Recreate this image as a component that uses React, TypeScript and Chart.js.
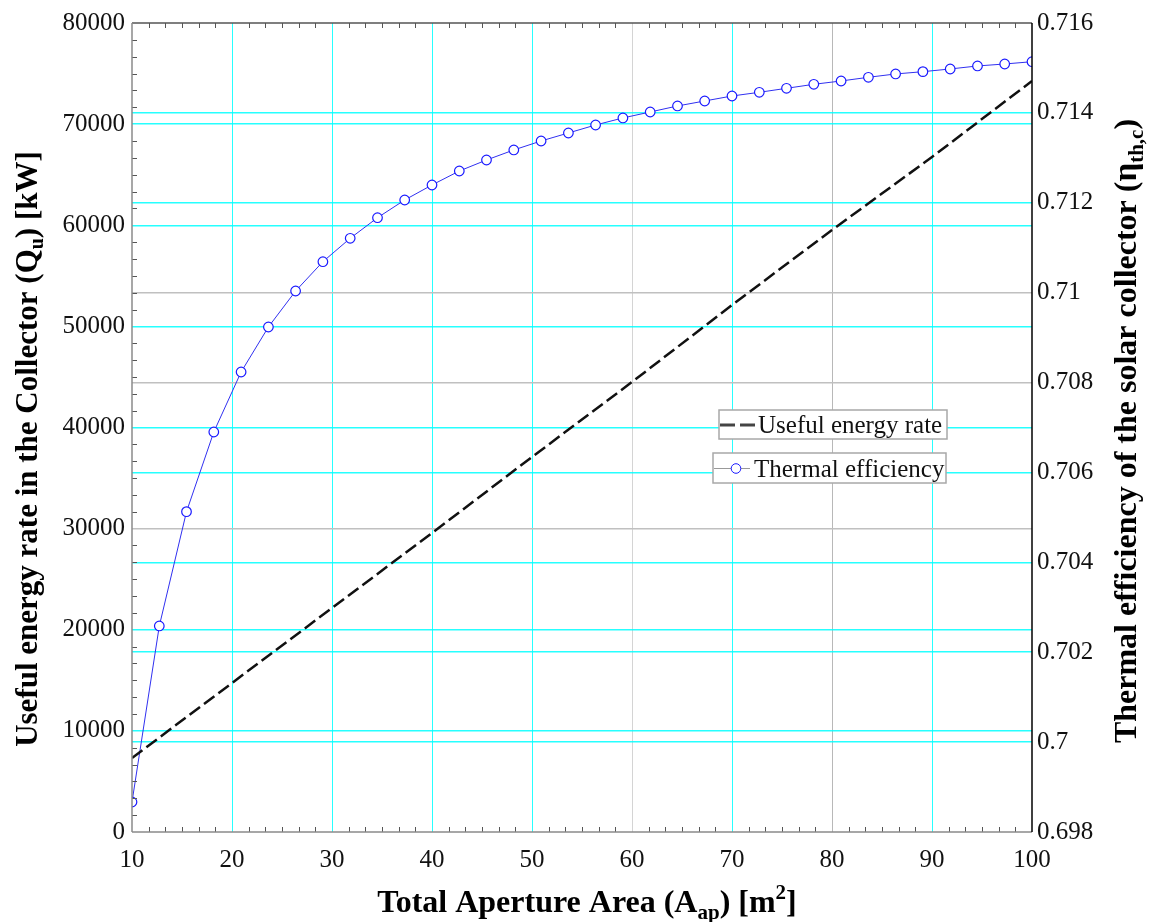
import React, { useEffect, useRef } from 'react';
import { Chart, registerables } from 'chart.js';

Chart.register(...registerables);

// ---------- data ----------
const areaEff = [10, 12.73, 15.45, 18.18, 20.91, 23.64, 26.36, 29.09, 31.82, 34.55, 37.27, 40, 42.73, 45.45, 48.18, 50.91, 53.64, 56.36, 59.09, 61.82, 64.55, 67.27, 70, 72.73, 75.45, 78.18, 80.91, 83.64, 86.36, 89.09, 91.82, 94.55, 97.27, 100];
const efficiency = [0.698668, 0.702584, 0.705127, 0.7069, 0.708235, 0.709236, 0.710037, 0.710689, 0.71121, 0.711668, 0.712062, 0.712396, 0.712707, 0.712952, 0.713175, 0.713375, 0.713553, 0.713731, 0.713887, 0.71402, 0.714154, 0.714265, 0.714376, 0.714458, 0.714547, 0.714636, 0.71471, 0.714792, 0.714866, 0.714917, 0.714977, 0.715044, 0.715088, 0.715139];
const areaEnergy = [10, 20, 30, 40, 50, 60, 70, 80, 90, 100];
const usefulEnergy = [7318, 14734, 22151, 29567, 37083, 44499, 52114, 59530, 66749, 74264];

const xTickValues = [10, 20, 30, 40, 50, 60, 70, 80, 90, 100];
const leftTickValues = [0, 10000, 20000, 30000, 40000, 50000, 60000, 70000, 80000];
const rightTickValues = [0.698, 0.7, 0.702, 0.704, 0.706, 0.708, 0.71, 0.712, 0.714, 0.716];
const rightTickLabels = ['0.698', '0.7', '0.702', '0.704', '0.706', '0.708', '0.71', '0.712', '0.714', '0.716'];

const seriesNames = ['Useful energy rate', 'Thermal efficiency'];
const xTitle = [
  { t: 'Total Aperture Area (A', s: 32 },
  { t: 'ap', s: 21, dy: 7 },
  { t: ') [m', s: 32 },
  { t: '2', s: 21, dy: -13 },
  { t: ']', s: 32 },
];
const leftTitle = [
  { t: 'Useful energy rate in the Collector (Q', s: 31 },
  { t: 'u', s: 20, dy: 6 },
  { t: ') [kW]', s: 31 },
];
const rightTitle = [
  { t: 'Thermal efficiency of the solar collector (', s: 32 },
  { t: 'η', s: 33 },
  { t: 'th,c', s: 21, dy: 7 },
  { t: ')', s: 32 },
];

const FONT = '"Liberation Serif", "Times New Roman", serif';
const CYAN = 'rgba(0,255,255,0.85)';
const CLEAR = 'rgba(0,0,0,0)';

function drawRich(ctx: CanvasRenderingContext2D, parts: any[], x: number, y: number, angle: number) {
  ctx.save();
  ctx.translate(x, y);
  ctx.rotate(angle);
  ctx.textAlign = 'left';
  ctx.textBaseline = 'alphabetic';
  ctx.fillStyle = '#000';
  let total = 0;
  const widths: number[] = [];
  for (const p of parts) {
    ctx.font = `bold ${p.s}px ${FONT}`;
    const w = ctx.measureText(p.t).width;
    widths.push(w);
    total += w;
  }
  let cx = -total / 2;
  parts.forEach((p, i) => {
    ctx.font = `bold ${p.s}px ${FONT}`;
    ctx.fillText(p.t, cx, p.dy || 0);
    cx += widths[i];
  });
  ctx.restore();
}

const decorPlugin = {
  id: 'decor',
  afterDraw(chart: any) {
    const { ctx, chartArea: a, scales } = chart;
    const xs = scales.x;
    const ys = scales.y;
    ctx.save();
    ctx.strokeStyle = '#555';
    ctx.lineWidth = 1;
    const seg = (x1: number, y1: number, x2: number, y2: number) => {
      ctx.beginPath();
      ctx.moveTo(x1, y1);
      ctx.lineTo(x2, y2);
      ctx.stroke();
    };
    for (let i = 0; i < xTickValues.length - 1; i++) {
      const v0 = xTickValues[i];
      const v1 = xTickValues[i + 1];
      for (let j = 1; j < 6; j++) {
        const px = Math.round(xs.getPixelForValue(v0 + ((v1 - v0) * j) / 6)) + 0.5;
        seg(px, a.bottom, px, a.bottom - 5);
        seg(px, a.top, px, a.top + 5);
      }
    }
    for (let i = 0; i < leftTickValues.length - 1; i++) {
      const v0 = leftTickValues[i];
      const v1 = leftTickValues[i + 1];
      for (let j = 1; j < 6; j++) {
        const py = Math.round(ys.getPixelForValue(v0 + ((v1 - v0) * j) / 6)) + 0.5;
        seg(a.left, py, a.left + 5, py);
      }
    }
    // frame
    ctx.lineWidth = 1.5;
    ctx.strokeStyle = '#555';
    seg(a.left, a.top, a.right, a.top);
    ctx.strokeStyle = '#8a8a8a';
    seg(a.left, a.top, a.left, a.bottom);
    seg(a.left, a.bottom, a.right, a.bottom);
    ctx.strokeStyle = '#000';
    seg(a.right, a.top, a.right, a.bottom);

    // legend
    ctx.fillStyle = '#fff';
    ctx.strokeStyle = '#a8a8a8';
    ctx.lineWidth = 1.5;
    ctx.fillRect(719, 410, 228, 29);
    ctx.strokeRect(719, 410, 228, 29);
    ctx.fillRect(713, 453, 233, 30);
    ctx.strokeRect(713, 453, 233, 30);
    ctx.strokeStyle = '#444';
    ctx.lineWidth = 3;
    ctx.setLineDash([15, 5]);
    seg(720, 425, 757, 425);
    ctx.setLineDash([]);
    ctx.strokeStyle = '#999';
    ctx.lineWidth = 1;
    seg(714, 468.5, 750, 468.5);
    ctx.beginPath();
    ctx.arc(736, 468.5, 4.8, 0, Math.PI * 2);
    ctx.fillStyle = '#fff';
    ctx.fill();
    ctx.strokeStyle = '#1a1aff';
    ctx.stroke();
    ctx.fillStyle = '#111';
    ctx.font = `25px ${FONT}`;
    ctx.textAlign = 'left';
    ctx.textBaseline = 'alphabetic';
    ctx.fillText(seriesNames[0], 758, 433);
    ctx.fillText(seriesNames[1], 754, 477);

    // axis titles
    drawRich(ctx, xTitle, 587, 912, 0);
    drawRich(ctx, leftTitle, 37, 449, -Math.PI / 2);
    drawRich(ctx, rightTitle, 1136, 431, -Math.PI / 2);
    ctx.restore();
  },
};

export default function App() {
  const ref = useRef<HTMLCanvasElement | null>(null);
  useEffect(() => {
    if (!ref.current) return;
    const tickFont = { family: FONT, size: 25 };
    const chart = new Chart(ref.current, {
      type: 'line',
      data: {
        datasets: [
          {
            label: seriesNames[0],
            data: areaEnergy.map((x, i) => ({ x, y: usefulEnergy[i] })),
            yAxisID: 'y',
            borderColor: '#111',
            borderWidth: 2.5,
            borderDash: [13, 5],
            pointRadius: 0,
            fill: false,
            tension: 0,
          },
          {
            label: seriesNames[1],
            data: areaEff.map((x, i) => ({ x, y: efficiency[i] })),
            yAxisID: 'y1',
            borderColor: '#3030f0',
            borderWidth: 1,
            pointRadius: 4.8,
            pointBackgroundColor: '#fff',
            pointBorderColor: '#1a1aff',
            pointBorderWidth: 1.2,
            fill: false,
            tension: 0,
          },
        ],
      },
      options: {
        responsive: false,
        animation: false,
        layout: { padding: { top: 23, left: 0, right: 0, bottom: 0 } },
        plugins: { legend: { display: false }, tooltip: { enabled: false }, title: { display: false } },
        scales: {
          x: {
            type: 'linear',
            min: 10,
            max: 100,
            afterBuildTicks: (s: any) => {
              s.ticks = xTickValues.map((v) => ({ value: v }));
            },
            afterFit: (s: any) => {
              s.height = 90;
            },
            border: { display: false },
            grid: {
              drawTicks: false,
              lineWidth: 1,
              color: (c: any) => {
                const v = c.tick ? c.tick.value : null;
                if (v === 10 || v === 100) return CLEAR;
                if (v === 60) return '#d4d4d4';
                if (v === 80) return '#b8b8b8';
                return CYAN;
              },
            },
            ticks: {
              font: tickFont,
              color: '#111',
              padding: 13,
              autoSkip: false,
              maxRotation: 0,
              callback: (v: any) => String(v),
            },
          },
          y: {
            type: 'linear',
            position: 'left',
            min: 0,
            max: 80000,
            afterBuildTicks: (s: any) => {
              s.ticks = leftTickValues.map((v) => ({ value: v }));
            },
            afterFit: (s: any) => {
              s.width = 132;
            },
            border: { display: false },
            grid: {
              drawTicks: false,
              lineWidth: 1.5,
              color: (c: any) => {
                const v = c.tick ? c.tick.value : null;
                if (v === 0 || v === 80000) return CLEAR;
                if (v === 30000) return '#c0c0c0';
                return CYAN;
              },
            },
            ticks: {
              font: tickFont,
              color: '#111',
              padding: 7,
              autoSkip: false,
              callback: (v: any) => String(v),
            },
          },
          y1: {
            type: 'linear',
            position: 'right',
            min: 0.698,
            max: 0.716,
            afterBuildTicks: (s: any) => {
              s.ticks = rightTickValues.map((v) => ({ value: v }));
            },
            afterFit: (s: any) => {
              s.width = 122;
            },
            border: { display: false },
            grid: {
              drawTicks: false,
              lineWidth: 1.5,
              color: (c: any) => {
                const v = c.tick ? c.tick.value : null;
                if (v === null) return CLEAR;
                if (Math.abs(v - 0.698) < 1e-6 || Math.abs(v - 0.716) < 1e-6) return CLEAR;
                if (Math.abs(v - 0.708) < 1e-6 || Math.abs(v - 0.71) < 1e-6) return '#c0c0c0';
                return CYAN;
              },
            },
            ticks: {
              font: tickFont,
              color: '#111',
              padding: 5,
              autoSkip: false,
              callback: (_v: any, i: number) => rightTickLabels[i],
            },
          },
        },
      },
      plugins: [decorPlugin],
    } as any);
    return () => chart.destroy();
  }, []);
  return (
    <div style={{ position: 'fixed', left: 0, top: 0, width: 1154, height: 922, background: '#fff' }}>
      <canvas ref={ref} width={1154} height={922} style={{ display: 'block', width: 1154, height: 922 }} />
    </div>
  );
}
